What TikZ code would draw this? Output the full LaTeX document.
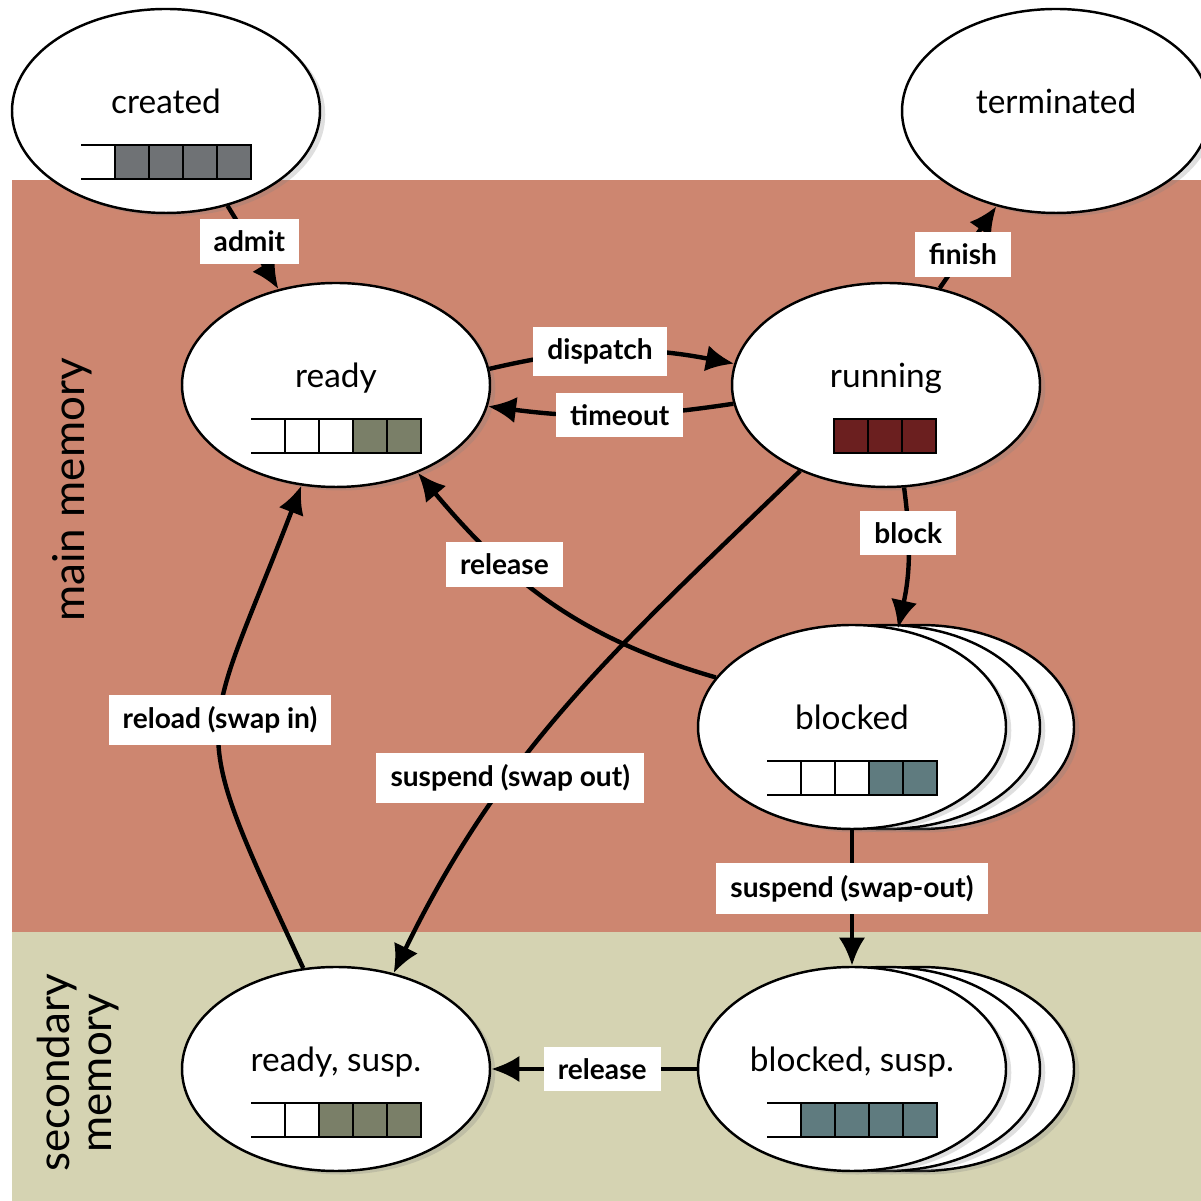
\documentclass[tikz,border=0pt]{standalone}
\usepackage{fontspec}
\setmainfont{Lato}
\usepackage{tikz}
\usetikzlibrary{
	shapes.geometric,   %椭圆形状
	calc,               %计算
	positioning,       %定位
	arrows.meta,        %提供各种箭头
	shadows            %阴影
}
\definecolor{mainmem}{RGB}{205,134,112}
\definecolor{secmem}{RGB}{213,211,178}
\definecolor{qgray}{RGB}{111,114,117}
\definecolor{qgreen}{RGB}{122,127,104}
\definecolor{qred}{RGB}{107,31,31}
\definecolor{qteal}{RGB}{95,123,127}
\tikzstyle{state}=[ellipse,
draw=black,
fill=white,
line width=0.7pt,
minimum width=3.08cm,
minimum height=2.04cm,
drop shadow={shadow xshift=1.5pt,shadow yshift=-1pt,opacity=0.25}]
\tikzset{
	every picture/.style={
		>={Latex[length=8pt,width=7.5pt]}
	},
	title/.style={anchor=base,inner sep=0pt,font=\fontsize{9.5}{11}\selectfont},
	lbl/.style={fill=white,inner xsep=4pt,minimum height=0.41cm,
		font=\fontsize{8}{9}\selectfont\bfseries},
	trans/.style={->,line width=1.25pt},
	cell/.style={draw=black,line width=0.75pt},
	memlbl/.style={rotate=90,align=center,font=\fontsize{12.5}{12}\selectfont}
}
%队列方格: #1 左端坐标, #2 颜色列表
\newcommand{\qcells}[2]{%
	\foreach \col [count=\i from 0] in {#2}{
		\draw[cell,fill=\col] ($(#1)+(0.34*\i,-0.17)$) rectangle ++(0.34,0.34);
	}
}
%带开口的队列
\newcommand{\pqueue}[2]{%
	\draw[cell] ($(#1)+(0,0.17)$) -- ++(0.34,0);
	\draw[cell] ($(#1)+(0,-0.17)$) -- ++(0.34,0);
	\qcells{$(#1)+(0.34,0)$}{#2}
}

\begin{document}
\begin{tikzpicture}
\fill[white] (0,0) rectangle (12.01,12.01);
\useasboundingbox (0,0) rectangle (12.01,12.01);
%内存区域
\fill[mainmem] (0.12,2.69) rectangle (12.01,10.21);
\fill[secmem] (0.12,0) rectangle (12.01,2.69);
\node[memlbl] (mainlbl) at (0.72,7.11) {main memory};
\node[memlbl] (seclbl) at (0.78,1.28) {secondary\\memory};
%状态
\node[state] (created) at (1.66,10.90) {};
\node[state] (terminated) at (10.56,10.90) {};
\node[state] (ready) at (3.36,8.16) {};
\node[state] (running) at (8.86,8.16) {};
\node[state] (blocked-b2) at (9.20,4.74) {};
\node[state] (blocked-b1) at (8.86,4.74) {};
\node[state] (blocked) at (8.52,4.74) {};
\node[state] (readysusp) at (3.36,1.32) {};
\node[state] (blockedsusp-b2) at (9.20,1.32) {};
\node[state] (blockedsusp-b1) at (8.86,1.32) {};
\node[state] (blockedsusp) at (8.52,1.32) {};
%状态名
\node[title] (created-t) at ([yshift=-0.03cm]created.center) {created};
\node[title] (terminated-t) at ([yshift=-0.03cm]terminated.center) {terminated};
\node[title] (ready-t) at ([yshift=-0.03cm]ready.center) {ready};
\node[title] (running-t) at ([yshift=-0.03cm]running.center) {running};
\node[title] (blocked-t) at ([yshift=-0.03cm]blocked.center) {blocked};
\node[title] (readysusp-t) at ([yshift=-0.03cm]readysusp.center) {ready, susp.};
\node[title] (blockedsusp-t) at ([yshift=-0.03cm]blockedsusp.center) {blocked, susp.};
%队列
\pqueue{$(created.center)+(-0.85,-0.51)$}{qgray,qgray,qgray,qgray}
\pqueue{$(ready.center)+(-0.85,-0.51)$}{white,white,qgreen,qgreen}
\qcells{$(running.center)+(-0.52,-0.51)$}{qred,qred,qred}
\pqueue{$(blocked.center)+(-0.85,-0.51)$}{white,white,qteal,qteal}
\pqueue{$(readysusp.center)+(-0.85,-0.51)$}{white,qgreen,qgreen,qgreen}
\pqueue{$(blockedsusp.center)+(-0.85,-0.51)$}{qteal,qteal,qteal,qteal}
%状态转换
\draw[trans] (created.-57) -- node[lbl,pos=0.43] (admit) {admit} (ready.121);
\draw[trans] (running.61) -- node[lbl,pos=0.41] (finish) {finish} (terminated.238);
\draw[trans] (ready.6) to[bend left=12] node[lbl,pos=0.45] (dispatch) {dispatch} (running.172);
\draw[trans] (running.187) to[bend left=8] node[lbl,pos=0.46] (timeout) {timeout} (ready.-8);
\draw[trans] (running.-80) to[bend left=10] node[lbl,pos=0.31] (block) {block} (blocked.65);
\draw[trans] (blocked.160) to[out=164,in=-50] node[lbl,pos=0.67] (release1) {release} (ready.-47);
\draw[trans] (running.225) to[out=224,in=64] node[lbl,pos=0.66] (swapout1) {suspend (swap out)} (readysusp.59);
\draw[trans] (readysusp.108) to[out=115,in=-111,looseness=1.5] node[lbl,pos=0.53] (swapin) {reload (swap in)} (ready.251);
\draw[trans] (blocked.south) -- node[lbl,pos=0.43] (swapout2) {suspend (swap-out)} (blockedsusp.north);
\draw[trans] (blockedsusp.west) -- node[lbl,pos=0.46] (release2) {release} (readysusp.east);
\end{tikzpicture}
\end{document}
